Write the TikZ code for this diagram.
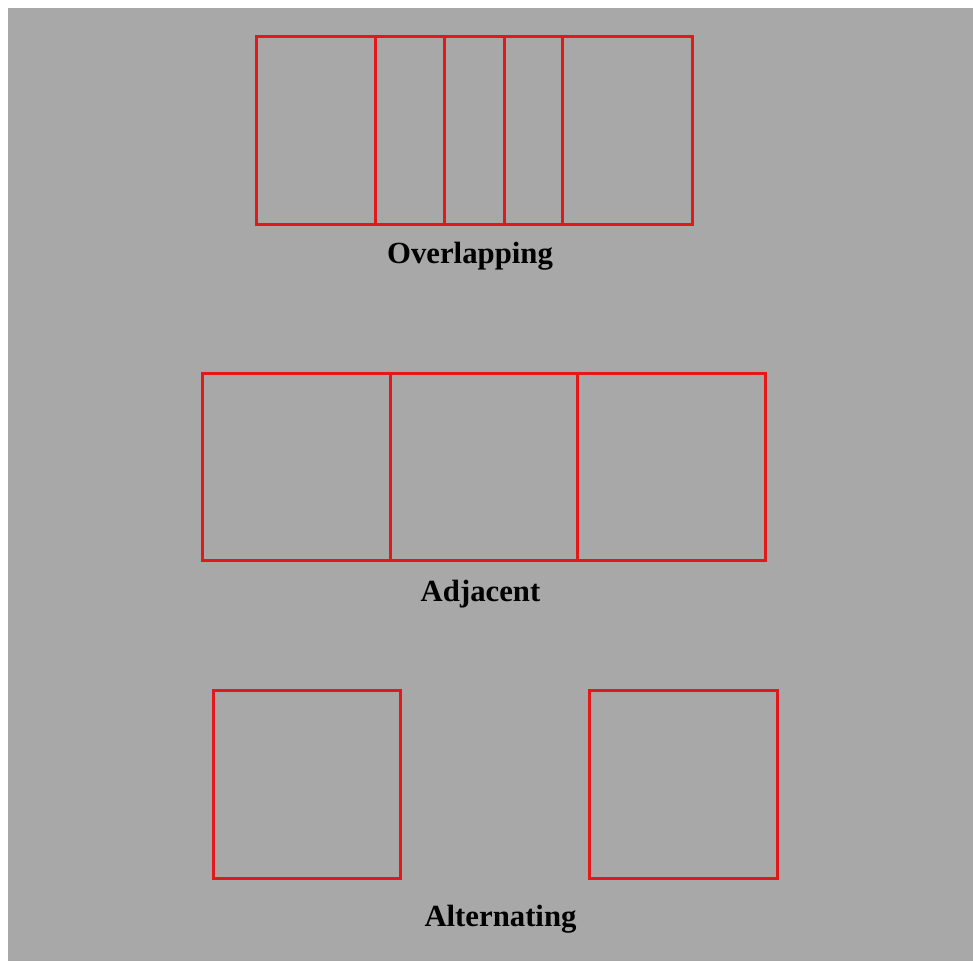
\documentclass[tikz,border=0pt]{standalone}
\usepackage{fontspec}
\setmainfont{Liberation Serif}
\usepackage{tikz}
\usetikzlibrary{positioning}

\definecolor{boxred}{RGB}{228,24,24}
\definecolor{panelgray}{RGB}{168,168,168}

\begin{document}
\begin{tikzpicture}[
      x=0.02cm, y=-0.02cm,
      frame/.style={rectangle, draw=boxred, line width=1.7pt,
                    minimum width=3.75cm, minimum height=3.75cm,
                    inner sep=0pt, outer sep=0pt},
      caption/.style={font=\fontsize{17.5}{20}\selectfont\bfseries,
                      inner sep=0pt, anchor=base},
    ]
    % page and gray panel
    \fill[white] (0,0) rectangle (973,961);
    \fill[panelgray] (8,8) rectangle (973,961);
    \useasboundingbox (0,0) rectangle (973,961);

    % overlapping
    \node[frame] (ov1) at (350.5,130.5) {};
    \node[frame] (ov2) [right=-1.38cm of ov1] {};
    \node[frame] (ov3) [right=-1.16cm of ov2] {};
    \node[caption] (ov-lbl) at (470,263) {Overlapping};

    % adjacent
    \node[frame] (ad1) at (296.5,467) {};
    \node[frame] (ad2) [right=0pt of ad1] {};
    \node[frame] (ad3) [right=0pt of ad2] {};
    \node[caption] (ad-lbl) at (480.5,601) {Adjacent};

    % alternating
    \node[frame] (al1) at (307,784.5) {};
    \node[frame] (al2) [right=3.78cm of al1] {};
    \node[caption] (al-lbl) at (500.5,926) {Alternating};
  \end{tikzpicture}
\end{document}
